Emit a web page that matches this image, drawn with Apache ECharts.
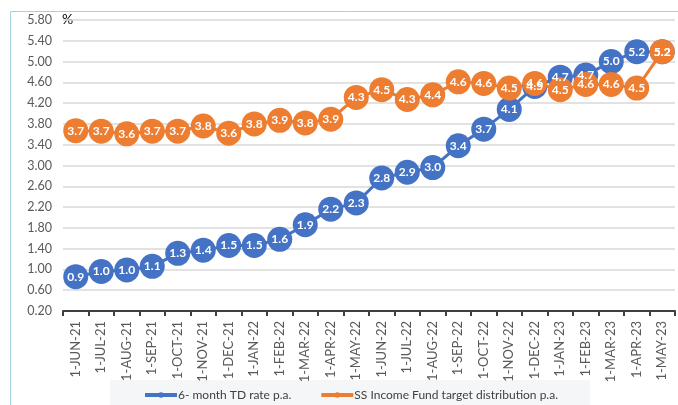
<!DOCTYPE html>
<html>
<head>
<meta charset="utf-8">
<script src="https://cdn.jsdelivr.net/npm/echarts@6/dist/echarts.min.js"></script>
<style>
html,body{margin:0;padding:0;background:#fff;}
#chart{width:678px;height:405px;}
</style>
</head>
<body>
<div id="chart"></div>
<script>
const categories = ["1-JUN-21","1-JUL-21","1-AUG-21","1-SEP-21","1-OCT-21","1-NOV-21","1-DEC-21","1-JAN-22","1-FEB-22","1-MAR-22","1-APR-22","1-MAY-22","1-JUN-22","1-JUL-22","1-AUG-22","1-SEP-22","1-OCT-22","1-NOV-22","1-DEC-22","1-JAN-23","1-FEB-23","1-MAR-23","1-APR-23","1-MAY-23"];
const tdRate = [0.86,0.96,0.99,1.06,1.31,1.37,1.46,1.46,1.58,1.86,2.16,2.28,2.76,2.87,2.96,3.38,3.70,4.08,4.52,4.70,4.74,5.00,5.19,5.19];
const ssFund = [3.67,3.66,3.61,3.66,3.66,3.76,3.62,3.80,3.87,3.82,3.89,4.31,4.46,4.27,4.36,4.61,4.58,4.49,4.58,4.46,4.56,4.56,4.49,5.19];
const seriesNames = ["6- month TD rate p.a.","SS Income Fund target distribution p.a."];
const yMin = 0.2, yMax = 5.8, yStep = 0.4;

const FONT = "Lato, 'Open Sans', sans-serif";
const fmt = p => (Math.round(p.value * 10) / 10).toFixed(1);

function mkSeries(name, data, color) {
  return {
    name: name,
    type: 'line',
    data: data,
    symbol: 'circle',
    symbolSize: 25,
    lineStyle: {color: color, width: 3},
    itemStyle: {color: color},
    label: {
      show: true, position: 'inside', formatter: fmt,
      color: '#fff', fontWeight: 'bold', fontSize: 12, fontFamily: FONT
    },
    emphasis: {disabled: true},
    animation: false
  };
}

const chart = echarts.init(document.getElementById('chart'), null, {renderer: 'canvas'});
chart.setOption({
  animation: false,
  textStyle: {fontFamily: FONT},
  grid: {left: 63, right: 3, top: 20, bottom: 94, containLabel: false},
  graphic: [
    {type: 'rect', left: 8, top: 9, shape: {width: 700, height: 420},
     style: {fill: 'none', stroke: '#a3d2e2', lineWidth: 1}, z: -10},
    {type: 'rect', left: 110, top: 380, shape: {width: 480, height: 30},
     style: {fill: '#f4f6f8'}, z: -5},
    {type: 'text', left: 62, top: 12,
     style: {text: '%', fontSize: 14, fill: '#000', fontFamily: FONT}}
  ],
  xAxis: {
    type: 'category',
    data: categories,
    boundaryGap: true,
    axisLine: {lineStyle: {color: '#404040', width: 2}},
    axisTick: {show: true, length: 5, lineStyle: {color: '#404040', width: 2}},
    axisLabel: {rotate: 90, fontSize: 13, color: '#595959', margin: 10, fontFamily: FONT, interval: 0}
  },
  yAxis: {
    type: 'value',
    min: yMin, max: yMax, interval: yStep,
    axisLine: {show: false},
    axisTick: {show: false},
    axisLabel: {formatter: v => v.toFixed(2), fontSize: 12.5, color: '#595959', margin: 11, fontFamily: FONT},
    splitLine: {lineStyle: {color: '#d9d9d9', width: 1.5}}
  },
  legend: {
    left: 138, top: 384,
    itemWidth: 32, itemHeight: 7, itemGap: 28,
    lineStyle: {width: 4},
    textStyle: {fontSize: 12, color: '#404040', fontFamily: FONT, padding: [0,0,0,-4]},
    data: seriesNames
  },
  series: [
    mkSeries(seriesNames[0], tdRate, '#4472c4'),
    mkSeries(seriesNames[1], ssFund, '#ed7d31')
  ]
});
</script>
</body>
</html>
